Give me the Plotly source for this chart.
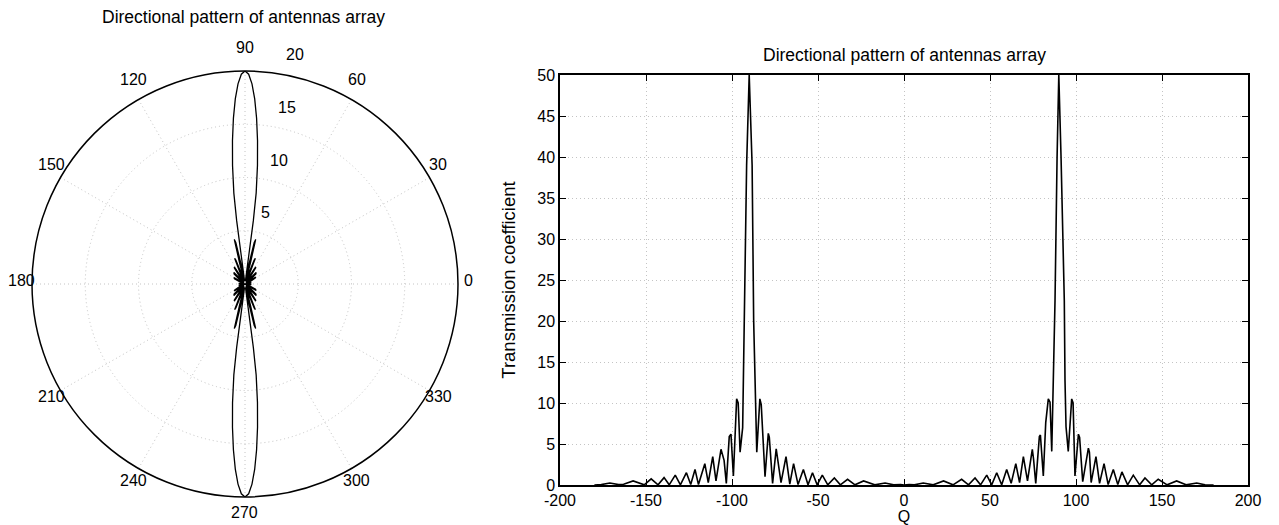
import math
import plotly.graph_objects as go

# ---------------- Data ----------------
# Cartesian pattern: vertices (angle in degrees, coefficient)
q_deg = [-180, -176, -171, -166, -163, -157.5, -151, -147, -143, -139.5, -136.5, -133, -130,
         -126.5, -124, -121.5, -119.5, -115.8, -113.8, -111.2, -109.3, -106.4, -104.6, -103.3,
         -101.6, -100.6, -99.2, -97.3, -96.4, -95.3, -93.8, -92.9, -91.5, -90, -88.3, -87.4,
         -86.5, -85.6, -83.8, -83.0, -80.8, -78.9, -78.3, -76.4, -74.3, -73.6, -71.5, -68.6,
         -66.4, -64.2, -61.6, -58.5, -55.8, -53.2, -50.5, -47.5, -44.3, -40.5, -37, -32.8,
         -28.5, -23.5, -17, -11, -6, -2, 0,
         3, 6, 11.2, 17, 23, 28.5, 33.5, 37.5, 41.3, 44.5, 48.1, 51, 53.9, 56.8, 59.7, 62.3,
         65, 67.2, 69.4, 71.8, 74.6, 75.3, 76.6, 78.7, 79.3, 81.0, 82.4, 83.9, 84.9, 85.9,
         86.8, 87.8, 89.0, 90, 91.3, 93.2, 93.6, 94.2, 95.5, 97.5, 98.3, 99.4, 101.4, 102.1,
         103.9, 107.2, 107.8, 108.8, 111.6, 113.7, 116.3, 118.7, 121.7, 124.3, 126.7, 130,
         133.3, 137, 140.1, 144, 147.8, 153, 158.5, 164, 170.2, 175, 180]
trans_coef = [0, 0.05, 0.25, 0.05, 0.1, 0.5, 0.02, 0.75, 0.02, 0.9, 0.02, 1.2, 0.02,
              1.5, 0.05, 1.9, 0.05, 2.6, 0.3, 3.45, 0.5, 4.35, 3.0, 0.2,
              5.9, 6.2, 1.1, 10.5, 10.0, 4.0, 7.0, 20.0, 39.0, 50, 39.0, 20.0,
              12.0, 4.0, 10.5, 9.8, 1.0, 6.3, 5.8, 0.2, 4.4, 3.5, 0.3, 3.45,
              0.1, 2.6, 0.05, 1.9, 0.02, 1.5, 0.02, 1.2, 0.02, 0.85, 0.02, 0.7,
              0.02, 0.5, 0.02, 0.25, 0.02, 0.05, 0,
              0.05, 0.02, 0.25, 0.02, 0.5, 0.02, 0.7, 0.02, 0.85, 0.02, 1.2, 0.02, 1.5, 0.02, 1.9, 0.2,
              2.6, 0.3, 3.45, 0.5, 4.35, 3.2, 0.2, 5.9, 6.1, 1.1, 7.6, 10.5, 10.1, 4.1,
              12.8, 22.5, 40.0, 50, 40.0, 22.5, 12.8, 7.1, 4.1, 10.5, 10.0, 1.1, 6.2, 5.8,
              0.4, 4.5, 4.0, 0.3, 3.45, 0.2, 2.6, 0.05, 1.9, 0.05, 1.6, 0.02,
              1.2, 0.02, 0.85, 0.02, 0.7, 0.02, 0.5, 0.02, 0.25, 0.02, 0]

# Polar pattern: vertices (angle in degrees, radius)
polar_theta = [0, 6, 12, 18, 23, 26, 30, 33, 38, 41, 43, 46, 52, 55, 56.5, 58, 60, 64, 66.5, 68,
               69, 71, 74, 75.5, 76.5, 77.5, 80, 82, 82.5, 83, 84, 85, 86, 87, 88, 89, 90,
               91, 92, 93, 94, 95, 96, 97, 97.5, 98, 100, 102.5, 103.5, 104.5, 106, 109, 111,
               112, 113.5, 116, 120, 122, 123.5, 125, 128, 134, 137, 139, 142, 150, 154, 157,
               162, 168, 174, 180,
               186, 192, 198, 203, 206, 210, 213, 218, 221, 223, 226, 232, 235, 236.5, 238, 240,
               244, 246.5, 248, 249, 251, 254, 255.5, 256.5, 257.5, 260, 262, 262.5, 263, 264,
               265, 266, 267, 268, 269, 270,
               271, 272, 273, 274, 275, 276, 277, 277.5, 278, 280, 282.5, 283.5, 284.5, 286,
               289, 291, 292, 293.5, 296, 300, 302, 303.5, 305, 308, 314, 317, 319, 322, 330,
               334, 337, 342, 348, 354, 360]
polar_r = [0.0, 0.5, 0.6, 0.4, 0.1, 0.6, 1.1, 1.2, 0.1, 0.9, 1.4, 1.5, 0.2, 1.0, 1.8, 1.9,
           1.0, 0.2, 1.2, 2.6, 2.4, 1.0, 0.3, 2.0, 4.3, 4.0, 1.2, 0.3, 6.0, 8.6, 11.2, 13.5,
           15.6, 17.4, 18.8, 19.7, 20,
           19.7, 18.8, 17.4, 15.6, 13.5, 11.2, 8.6, 6.0, 0.3, 1.2, 4.0, 4.3, 2.0, 0.3, 1.0,
           2.4, 2.6, 1.2, 0.2, 1.0, 1.9, 1.8, 1.0, 0.2, 1.5, 1.4, 0.9, 0.1, 1.2, 1.1, 0.6,
           0.1, 0.4, 0.6, 0.0,
           0.5, 0.6, 0.4, 0.1, 0.6, 1.1, 1.2, 0.1, 0.9, 1.4, 1.5, 0.2, 1.0, 1.8, 1.9, 1.0,
           0.2, 1.2, 2.6, 2.4, 1.0, 0.3, 2.0, 4.3, 4.0, 1.2, 0.3, 6.0, 8.6, 11.2, 13.5, 15.6,
           17.4, 18.8, 19.7, 20,
           19.7, 18.8, 17.4, 15.6, 13.5, 11.2, 8.6, 6.0, 0.3, 1.2, 4.0, 4.3, 2.0, 0.3, 1.0,
           2.4, 2.6, 1.2, 0.2, 1.0, 1.9, 1.8, 1.0, 0.2, 1.5, 1.4, 0.9, 0.1, 1.2, 1.1, 0.6,
           0.1, 0.4, 0.6, 0.0]

angle_ticks = [0, 30, 60, 90, 120, 150, 180, 210, 240, 270, 300, 330]
radial_ticks = [5, 10, 15, 20]
x_ticks = [-200, -150, -100, -50, 0, 50, 100, 150, 200]
x_tick_text = ["-200", "-150", "-100", "-50", "0", "50", "100", "150", "200"]
y_ticks = [0, 5, 10, 15, 20, 25, 30, 35, 40, 45, 50]

title_text = "Directional pattern of antennas array"
FONT = "Liberation Sans, Arial, Helvetica, sans-serif"
GRID = "#c4c4c4"

W, H = 1279, 525
cx, cy, R = 245, 284, 213          # polar circle geometry (pixels)
r_max = radial_ticks[-1]

fig = go.Figure()

fig.add_trace(go.Scatterpolar(theta=polar_theta, r=polar_r, mode="lines",
                              line=dict(color="black", width=1.3), showlegend=False,
                              hoverinfo="skip"))

fig.add_trace(go.Scatter(x=q_deg, y=trans_coef, mode="lines",
                         line=dict(color="black", width=1.6), showlegend=False,
                         hoverinfo="skip", xaxis="x", yaxis="y"))

annotations = [
    dict(text=title_text, x=243 / W, y=1 - 17 / H, xref="paper", yref="paper",
         showarrow=False, font=dict(size=17.5), xanchor="center", yanchor="middle"),
    dict(text=title_text, x=904 / W, y=1 - 55 / H, xref="paper", yref="paper",
         showarrow=False, font=dict(size=17.5), xanchor="center", yanchor="middle"),
]
# angular labels around the circle (MATLAB polar style)
for a in angle_ticks:
    px = cx + 223 * math.cos(math.radians(a))
    py = cy - 232 * math.sin(math.radians(a)) - 4
    annotations.append(dict(text=str(a), x=px / W, y=1 - py / H, xref="paper", yref="paper",
                            showarrow=False, font=dict(size=16),
                            xanchor="center", yanchor="middle"))
# radial labels just outside each ring, left-aligned along ~81 degrees
for v in radial_ticks:
    rr = R * v / r_max + 19
    px = cx + rr * math.cos(math.radians(81)) + 3
    py = cy - rr * math.sin(math.radians(81))
    annotations.append(dict(text=str(v), x=px / W, y=1 - py / H, xref="paper", yref="paper",
                            showarrow=False, font=dict(size=16),
                            xanchor="left", yanchor="middle"))

fig.update_layout(
    width=W, height=H,
    margin=dict(l=0, r=0, t=0, b=0, autoexpand=False),
    paper_bgcolor="white", plot_bgcolor="white",
    font=dict(family=FONT, size=16, color="black"),
    polar=dict(
        domain=dict(x=[(cx - R) / W, (cx + R) / W], y=[1 - (cy + R) / H, 1 - (cy - R) / H]),
        bgcolor="white",
        angularaxis=dict(rotation=0, direction="counterclockwise", tickmode="array",
                         tickvals=angle_ticks, showticklabels=False, ticks="",
                         showline=True, linecolor="black", linewidth=1.5,
                         gridcolor=GRID, griddash="1px,3px", gridwidth=1),
        radialaxis=dict(range=[0, r_max], tickmode="array", tickvals=radial_ticks,
                        showticklabels=False, ticks="", showline=False,
                        gridcolor=GRID, griddash="1px,3px", gridwidth=1),
    ),
    xaxis=dict(domain=[560 / W, 1248 / W], range=[-200, 200], tickmode="array",
               tickvals=x_ticks, ticktext=x_tick_text, ticks="inside", ticklen=6,
               tickcolor="black",
               showline=True, linecolor="black", linewidth=1.5, mirror="ticks",
               showgrid=True, gridcolor=GRID, griddash="1px,3px", gridwidth=1,
               zeroline=False, tickfont=dict(size=16), anchor="y", automargin=False,
               title=dict(text="Q", font=dict(size=16), standoff=0)),
    yaxis=dict(domain=[1 - 485 / H, 1 - 75 / H], range=[0, 50], tickmode="array",
               tickvals=y_ticks, ticks="inside", ticklen=6, tickcolor="black",
               showline=True, linecolor="black", linewidth=1.5, mirror="ticks",
               showgrid=True, gridcolor=GRID, griddash="1px,3px", gridwidth=1,
               zeroline=False, tickfont=dict(size=16), anchor="x", automargin=False,
               title=dict(text="Transmission coefficient", font=dict(size=18.5), standoff=17)),
    annotations=annotations,
)

fig.write_html("out.html",
               config={"displayModeBar": False},
               post_script="document.body.style.margin='0px';"
                           "document.body.style.overflow='hidden';")
